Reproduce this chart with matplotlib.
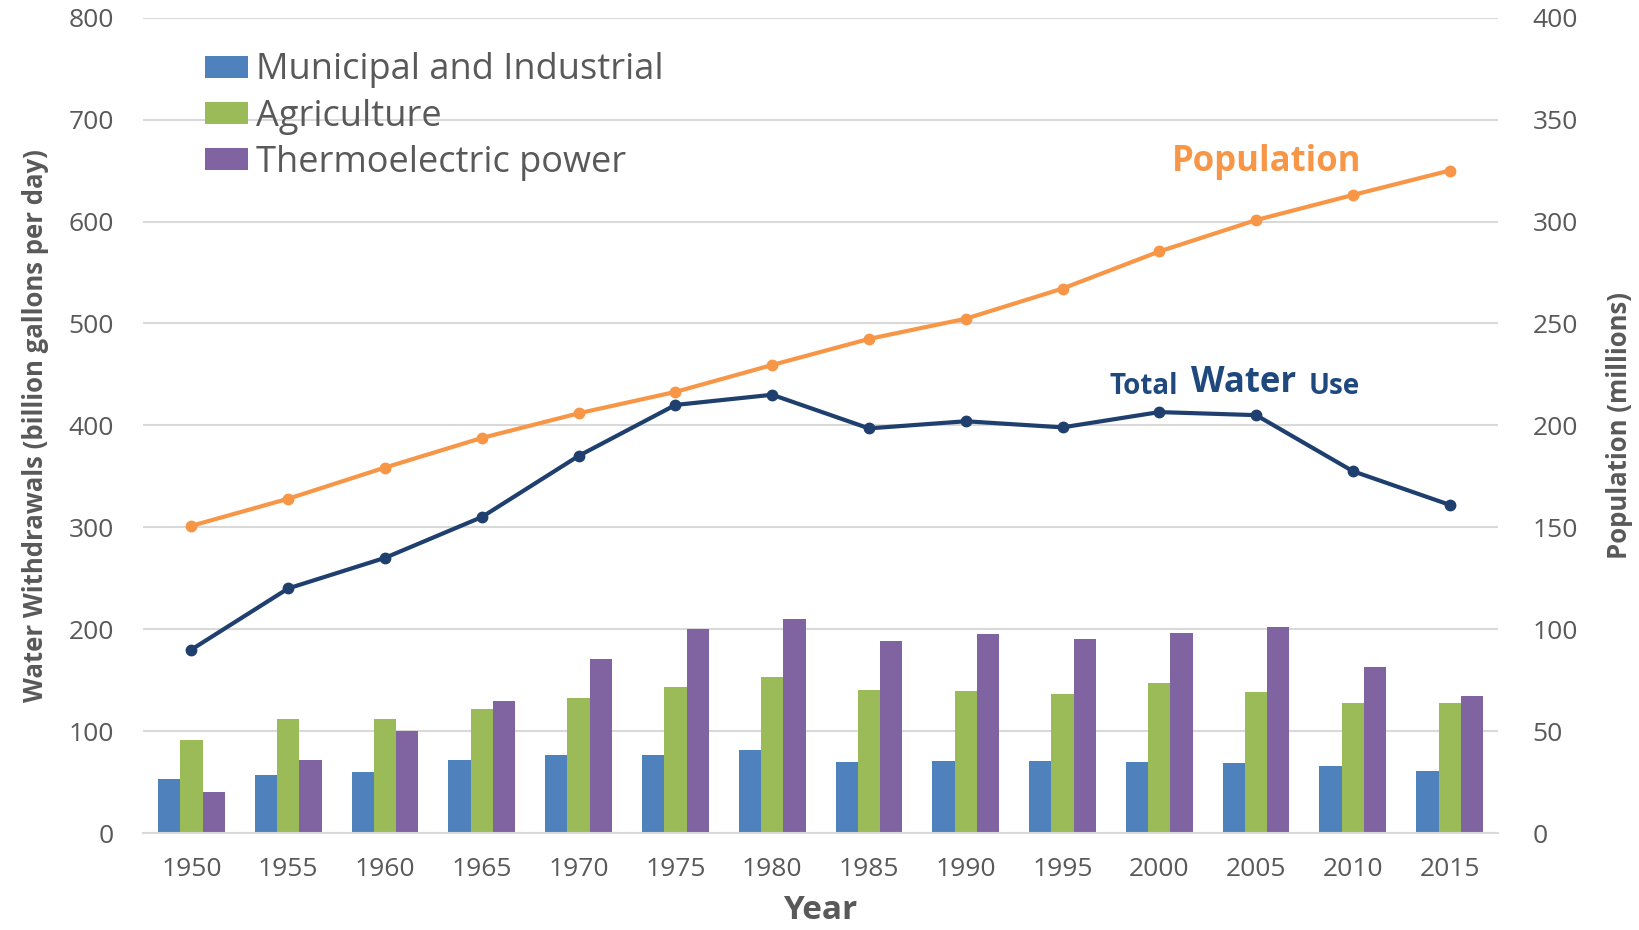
import matplotlib.pyplot as plt
import numpy as np

years = ['1950', '1955', '1960', '1965', '1970', '1975', '1980',
         '1985', '1990', '1995', '2000', '2005', '2010', '2015']
municipal = [53, 57, 60, 72, 77, 77, 81, 70, 71, 71, 70, 69, 66, 61]
agriculture = [91, 112, 112, 122, 132, 143, 153, 140, 139, 136, 147, 138, 128, 128]
thermo = [40, 72, 100, 130, 171, 200, 210, 188, 195, 190, 196, 202, 163, 134]
total_use = [180, 240, 270, 310, 370, 420, 430, 397, 404, 398, 413, 410, 355, 322]
population = [150.7, 164, 179.3, 193.8, 205.9, 216.4, 229.6, 242.4, 252.3, 267.1,
              285.3, 300.7, 313, 325]

gray = '#595959'
navy = '#1F497D'
plt.rcParams['font.family'] = ['Open Sans', 'DejaVu Sans']

fig = plt.figure(figsize=(16.39, 9.30), dpi=100)
ax = fig.add_axes([0.0873, 0.1043, 0.8267, 0.8767])
ax2 = ax.twinx()

x = np.arange(len(years))
w = 0.23
ax.bar(x - w, municipal, w, color='#4F81BD', label='Municipal and Industrial', zorder=2)
ax.bar(x, agriculture, w, color='#9BBB59', label='Agriculture', zorder=2)
ax.bar(x + w, thermo, w, color='#8064A2', label='Thermoelectric power', zorder=2)
ax.plot(x, total_use, color='#1F3F6E', lw=3, marker='o', ms=7.5, zorder=4)

ax2.plot(x, population, color='#F79646', lw=3, marker='o', ms=7.5, zorder=4)

ax.set_xlim(-0.5, len(years) - 0.5)
ax.set_ylim(0, 800)
ax2.set_ylim(0, 400)
ax.set_yticks(np.arange(0, 801, 100))
ax2.set_yticks(np.arange(0, 401, 50))
ax.set_xticks(x)
ax.set_xticklabels(years)

ax.grid(axis='y', color='#D9D9D9', lw=1.5, zorder=0)
ax.set_axisbelow(True)
for a in (ax, ax2):
    for s in a.spines.values():
        s.set_visible(False)
    a.tick_params(length=0, labelsize=19, colors=gray)
ax.spines['bottom'].set_visible(True)
ax.spines['bottom'].set_color('#D9D9D9')
ax.spines['bottom'].set_linewidth(1.5)
ax.tick_params(axis='x', pad=17)
ax.tick_params(axis='y', pad=21)
ax2.tick_params(axis='y', pad=25)

ax.set_xlabel('Year', fontsize=24, fontweight='bold', color=gray, labelpad=9)
ax.set_ylabel('Water Withdrawals (billion gallons per day)', fontsize=18.5,
              fontweight='bold', color=gray, labelpad=14)
ax2.set_ylabel('Population (millions)', fontsize=18.5, fontweight='bold', color=gray,
               labelpad=20)

ax.legend(loc='upper left', bbox_to_anchor=(0.035, 0.975), frameon=False, fontsize=26,
          labelcolor=gray, handlelength=1.2, handleheight=0.55, handletextpad=0.2,
          labelspacing=0.28, borderaxespad=0)

# annotations
ax.text(11.11, 658, 'Population', color='#F79646', fontsize=25, fontweight='bold',
        ha='center', va='center', zorder=5)
t1 = ax.text(9.49, 431, 'Total', color=navy, fontsize=20, fontweight='bold',
             ha='left', va='baseline', zorder=5)
t2 = ax.annotate('Water', xy=(1, 0), xycoords=t1, xytext=(9, 0),
                 textcoords='offset points', color=navy, fontsize=25,
                 fontweight='bold', ha='left', va='bottom', zorder=5)
ax.annotate('Use', xy=(1, 0), xycoords=t2, xytext=(9, 0),
            textcoords='offset points', color=navy, fontsize=20,
            fontweight='bold', ha='left', va='bottom', zorder=5)

fig.savefig('out.png', dpi=100)
